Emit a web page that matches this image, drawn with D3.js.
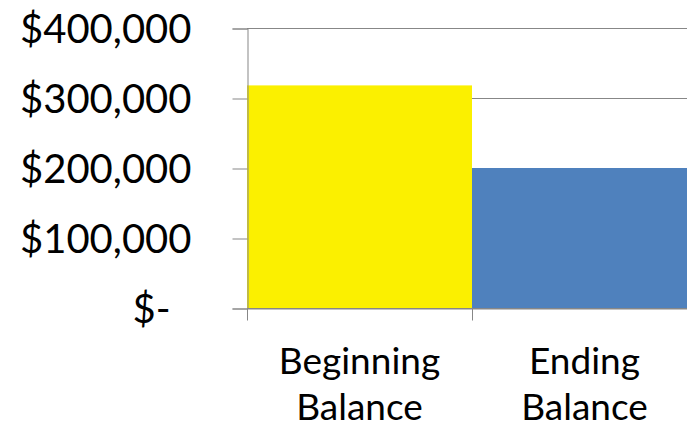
<!DOCTYPE html>
<html lang="en">
<head>
    <meta charset="UTF-8">
    <title>Beginning vs Ending Balance</title>
    <script src="https://d3js.org/d3.v7.min.js"></script>
    <style>
        body {
            margin: 0;
            background: white;
            overflow: hidden;
        }
        svg text {
            font-family: Lato, "Open Sans", sans-serif;
            fill: black;
        }
    </style>
</head>
<body>
    <div id="chart"></div>

    <script>
        // data
        const categories = ["Beginning Balance", "Ending Balance"];
        const balances = [318000, 200000];
        const barColors = ["#fbf000", "#4f81bd"];
        const yTicks = [0, 100000, 200000, 300000, 400000];

        const width = 687,
              height = 429;

        const margin = {top: 28, right: -10, bottom: 121, left: 247};

        const svg = d3.select("#chart")
                      .append("svg")
                      .attr("width", width)
                      .attr("height", height);

        const x = d3.scaleBand()
                    .domain(categories)
                    .range([margin.left, width - margin.right])
                    .padding(0);

        const y = d3.scaleLinear()
                    .domain([0, 400000])
                    .range([height - margin.bottom, margin.top]);

        const fmt = d3.format(",");

        // horizontal gridlines
        svg.append("g")
           .selectAll("line")
           .data(yTicks)
           .join("line")
           .attr("x1", margin.left)
           .attr("x2", width - margin.right)
           .attr("y1", d => Math.round(y(d)) + 0.5)
           .attr("y2", d => Math.round(y(d)) + 0.5)
           .attr("stroke", "#878787")
           .attr("stroke-width", 1);

        // bars
        svg.append("g")
           .selectAll("rect")
           .data(balances)
           .join("rect")
           .attr("x", (d, i) => x(categories[i]))
           .attr("width", x.bandwidth())
           .attr("y", d => y(d))
           .attr("height", d => y(0) - y(d))
           .attr("fill", (d, i) => barColors[i]);

        // y axis
        const yAxis = svg.append("g")
           .attr("transform", `translate(${margin.left + 0.5},0.5)`)
           .call(d3.axisLeft(y)
                   .tickValues(yTicks)
                   .tickSize(15)
                   .tickPadding(41)
                   .tickFormat(d => d === 0 ? "$-" : "$" + fmt(d)));

        yAxis.select(".domain").attr("stroke", "#878787");
        yAxis.selectAll(".tick line").attr("stroke", "#878787");
        yAxis.selectAll(".tick text")
             .attr("font-size", 40)
             .attr("fill", "black")
             .attr("dy", "0.34em")
             .attr("dx", d => d === 0 ? -21 : 0);

        // x axis
        const xAxis = svg.append("g")
           .attr("transform", `translate(0,${Math.round(y(0)) + 0.5})`)
           .call(d3.axisBottom(x).tickSize(0).tickFormat(""));

        xAxis.select(".domain").attr("stroke", "#878787");

        // category separators on the x axis
        xAxis.append("g")
             .selectAll("line")
             .data(categories.concat([null]))
             .join("line")
             .attr("x1", (d, i) => Math.round(margin.left + i * x.bandwidth()) + 0.5)
             .attr("x2", (d, i) => Math.round(margin.left + i * x.bandwidth()) + 0.5)
             .attr("y1", 0)
             .attr("y2", 12)
             .attr("stroke", "#878787");

        // two-line category labels
        const labels = svg.append("g")
           .selectAll("text")
           .data(categories)
           .join("text")
           .attr("text-anchor", "middle")
           .attr("font-size", 37)
           .attr("x", d => x(d) + x.bandwidth() / 2)
           .attr("y", 374);

        labels.selectAll("tspan")
              .data(d => d.split(" "))
              .join("tspan")
              .attr("x", function() { return this.parentNode.getAttribute("x"); })
              .attr("dy", (d, i) => i === 0 ? 0 : 46)
              .text(d => d);
    </script>
</body>
</html>
